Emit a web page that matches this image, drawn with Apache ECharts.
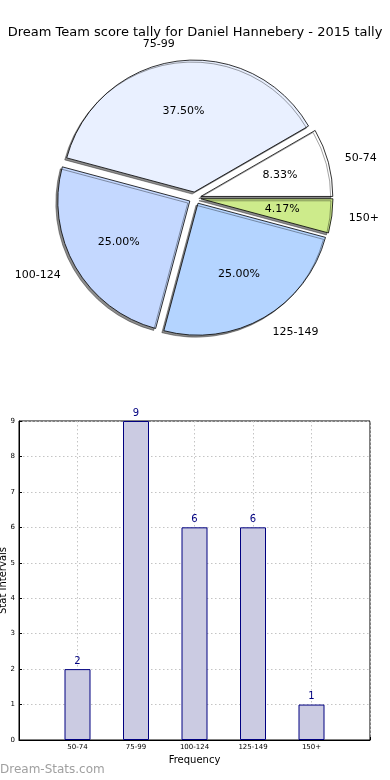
<!DOCTYPE html>
<html>
<head>
<meta charset="utf-8">
<script src="https://cdn.jsdelivr.net/npm/echarts@6/dist/echarts.min.js"></script>
<style>
html,body{margin:0;padding:0;background:#fff;}
#c{width:390px;height:780px;}
</style>
</head>
<body>
<div id="c"></div>
<script>
var titleText = 'Dream Team score tally for Daniel Hannebery - 2015 tally';
var categories = ['50-74', '75-99', '100-124', '125-149', '150+'];
var counts = [2, 9, 6, 6, 1];
var sliceColors = ['#ffffff', '#e9f0ff', '#c4d8ff', '#b4d4ff', '#cdeb8b'];
var yTicks = [0, 1, 2, 3, 4, 5, 6, 7, 8, 9];

var FONT = 'DejaVu Sans';
var chart = echarts.init(document.getElementById('c'), null, {renderer: 'canvas'});

var pieOuter = categories.map(function (c, i) {
  return {name: c, value: counts[i], selected: true,
    itemStyle: {color: sliceColors[i]}};
});
var pieInner = categories.map(function (c, i) {
  return {name: c, value: counts[i], selected: true};
});

var axisCats = [''].concat(categories).concat(['']);
var barData = [null].concat(counts).concat([null]);

var gridLine = {show: true, lineStyle: {color: '#c4c4c4', type: [1.5, 2.5], width: 1}};

var option = {
  animation: false,
  title: {
    text: titleText, left: 'center', top: 21,
    textStyle: {fontFamily: FONT, fontSize: 13, fontWeight: 'normal', color: '#000'}
  },
  graphic: [{
    type: 'text', left: 0, top: 764,
    style: {text: 'Dream-Stats.com', fontFamily: FONT, fontSize: 12, fill: '#a0a0a0', fontWeight: 'normal'}
  }],
  grid: {
    left: 19, right: 20, top: 421, bottom: 40,
    containLabel: false, outerBoundsMode: 'none',
    show: true, borderColor: '#000', borderWidth: 1
  },
  xAxis: {
    type: 'category', data: axisCats, boundaryGap: false,
    axisLine: {show: true, lineStyle: {color: '#000'}},
    axisTick: {show: true, inside: true, length: 3, lineStyle: {color: '#000'}},
    axisLabel: {fontFamily: FONT, fontSize: 7, color: '#000', margin: 4, interval: 0},
    splitLine: gridLine,
    name: 'Frequency', nameLocation: 'middle', nameGap: 15, nameMoveOverlap: false,
    nameTextStyle: {fontFamily: FONT, fontSize: 10, color: '#000'}
  },
  yAxis: {
    type: 'value', min: yTicks[0], max: yTicks[yTicks.length - 1], interval: 1,
    axisLine: {show: true, lineStyle: {color: '#000'}},
    axisTick: {show: true, inside: true, length: 3, lineStyle: {color: '#000'}},
    axisLabel: {fontFamily: FONT, fontSize: 7, color: '#000', margin: 4},
    splitLine: gridLine,
    name: 'Stat Intervals', nameLocation: 'middle', nameGap: 11, nameRotate: 90, nameMoveOverlap: false,
    nameTextStyle: {fontFamily: FONT, fontSize: 10, color: '#000'}
  },
  series: [
    {
      type: 'pie', center: [195, 198], radius: 132,
      startAngle: 0, clockwise: false,
      selectedMode: 'multiple', selectedOffset: 6,
      avoidLabelOverlap: false,
      data: pieOuter,
      itemStyle: {borderColor: '#000', borderWidth: 0.8,
        shadowColor: 'rgba(0,0,0,0.45)', shadowBlur: 0, shadowOffsetX: -2, shadowOffsetY: 2},
      select: {itemStyle: {borderColor: '#000', borderWidth: 0.8}},
      emphasis: {disabled: true},
      label: {show: true, position: 'outside', fontFamily: FONT, fontSize: 11, color: '#000',
        distanceToLabelLine: 0, formatter: '{b}'},
      labelLine: {show: false, length: 17, length2: 0}
    },
    {
      type: 'pie', center: [195, 198], radius: [26, 132],
      startAngle: 0, clockwise: false,
      selectedMode: 'multiple', selectedOffset: 6,
      avoidLabelOverlap: false, silent: true,
      percentPrecision: 2,
      data: pieInner,
      itemStyle: {color: 'rgba(0,0,0,0)', borderWidth: 0},
      select: {itemStyle: {color: 'rgba(0,0,0,0)', borderWidth: 0}},
      emphasis: {disabled: true},
      label: {show: true, position: 'inside', fontFamily: FONT, fontSize: 11, color: '#000',
        formatter: function (p) { return p.percent.toFixed(2) + '%'; }},
      labelLine: {show: false}
    },
    {
      type: 'bar', data: barData, barWidth: 26,
      itemStyle: {color: '#cbcbe2', borderColor: '#000080', borderWidth: 1},
      label: {show: true, position: 'top', distance: 3, fontFamily: FONT, fontSize: 10, color: '#000080'},
      emphasis: {disabled: true}
    }
  ]
};
chart.setOption(option);
</script>
</body>
</html>
